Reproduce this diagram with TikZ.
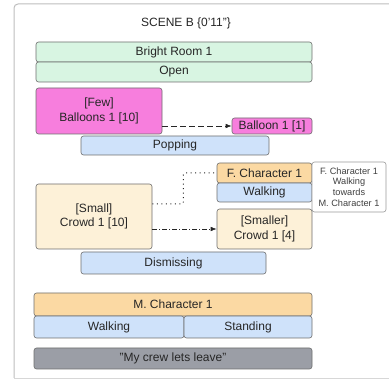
\documentclass[tikz,border=0pt]{standalone}
\usepackage{fontspec}
\setmainfont{Liberation Sans}
\usetikzlibrary{arrows.meta}
\definecolor{bordc}{HTML}{6E6E6E}
\definecolor{greenf}{HTML}{D8F5E2}
\definecolor{magf}{HTML}{F77EDD}
\definecolor{bluef}{HTML}{CFE2FA}
\definecolor{orangef}{HTML}{FBD9A3}
\definecolor{creamf}{HTML}{FDF1D8}
\definecolor{grayf}{HTML}{9B9EA6}
\definecolor{framec}{HTML}{BDBDBD}
\tikzset{
  box/.style={draw=bordc, line width=0.6pt, rounded corners=2.5pt, inner sep=0pt, align=center, font=\fontsize{12}{14.5}\selectfont, text=black!85},
  greenbox/.style={box, fill=greenf},
  magbox/.style={box, fill=magf},
  bluebox/.style={box, fill=bluef},
  orangebox/.style={box, fill=orangef},
  creambox/.style={box, fill=creamf},
  graybox/.style={box, fill=grayf},
  notebox/.style={box, draw=bordc!70, fill=white, font=\fontsize{9.2}{10.8}\selectfont, text=black!75},
  conn/.style={line width=0.6pt, black!85},
  tip/.style={-{Latex[length=6pt,width=4.5pt]}}
}
\begin{document}
\begin{tikzpicture}[x=1pt,y=-1pt]
\useasboundingbox (0,0) rectangle (389,379);
\draw[framec, line width=1pt, rounded corners=4pt] (14,378) -- (14,4) -- (400,4);
\draw[framec!60, line width=0.6pt] (14,378) -- (389,378);
\node[font=\fontsize{12}{14.5}\selectfont, text=black!85] (title) at (186,23) {SCENE B \{0\symbol{39}11\symbol{34}\}};
\node[greenbox, minimum width=276pt, minimum height=20pt] (bright) at (174,52) {Bright Room 1};
\node[greenbox, minimum width=276pt, minimum height=20pt] (open) at (174,72) {Open};
\node[magbox, minimum width=126pt, minimum height=46pt] (few) at (99,111) {[Few]\\Balloons 1 [10]};
\node[magbox, minimum width=80pt, minimum height=16pt] (balloon) at (272,126) {Balloon 1 [1]};
\node[bluebox, minimum width=188pt, minimum height=19pt] (popping) at (175,145.5) {Popping};
\node[orangebox, minimum width=95pt, minimum height=20pt] (fchar) at (264.5,173) {F. Character 1};
\node[bluebox, minimum width=95pt, minimum height=19pt] (fwalk) at (264.5,192.5) {Walking};
\node[notebox, minimum width=74pt, minimum height=50pt] (note) at (349,187) {F. Character 1\\Walking\\towards\\M. Character 1};
\node[creambox, minimum width=116pt, minimum height=65pt] (small) at (94,216.5) {[Small]\\Crowd 1 [10]};
\node[creambox, minimum width=95pt, minimum height=40pt] (smaller) at (264.5,229) {[Smaller]\\Crowd 1 [4]};
\node[bluebox, minimum width=185pt, minimum height=22pt] (dismiss) at (173.5,263) {Dismissing};
\node[orangebox, minimum width=278pt, minimum height=23pt] (mchar) at (173,304.5) {M. Character 1};
\node[bluebox, minimum width=150pt, minimum height=22pt] (mwalk) at (109,327) {Walking};
\node[bluebox, minimum width=128pt, minimum height=22pt] (stand) at (248,327) {Standing};
\node[graybox, minimum width=278pt, minimum height=21pt] (crew) at (173,358.5) {\symbol{34}My crew lets leave\symbol{34}};
\draw[conn, tip, dash pattern=on 6pt off 3pt] (few.east |- balloon.west) -- (balloon.west);
\draw[conn, line width=1pt, dash pattern=on 1pt off 3.5pt, rounded corners=2pt] ([yshift=12.5pt]small.east) -- ++(31,0) |- (fchar.west);
\draw[conn, tip, dash pattern=on 5pt off 2pt on 1pt off 2pt] (small.east |- smaller.west) -- (smaller.west);
\end{tikzpicture}
\end{document}
